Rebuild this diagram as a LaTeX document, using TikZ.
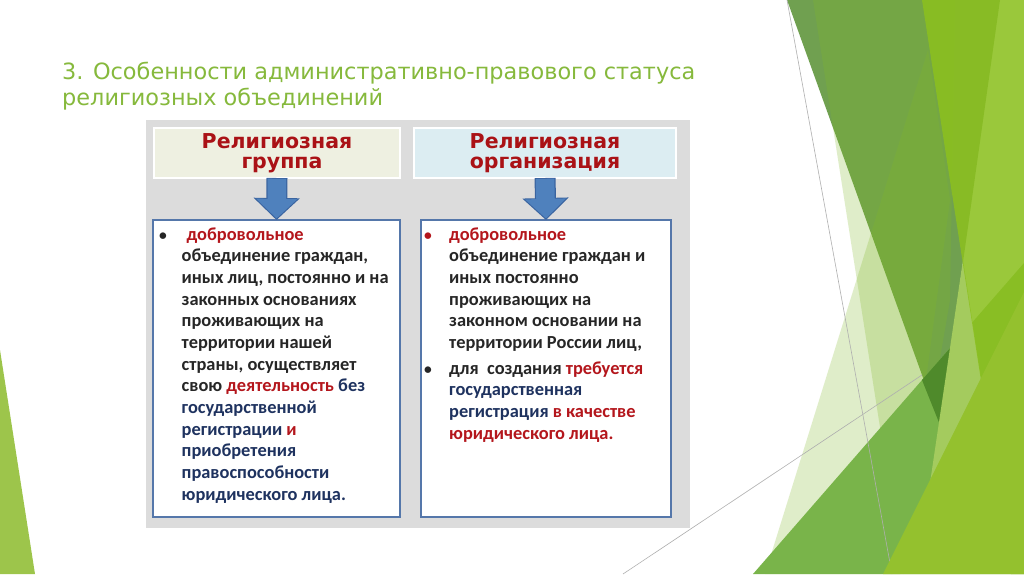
\documentclass[tikz,border=0pt]{standalone}
\usepackage{fontspec}
\setmainfont{Carlito}
\newfontfamily\titlefont{DejaVu Sans}
\newfontfamily\headfont{DejaVu Sans}
\usetikzlibrary{arrows.meta}
\definecolor{titlegreen}{RGB}{134,185,60}
\definecolor{panelgray}{RGB}{220,220,220}
\definecolor{headL}{RGB}{238,240,225}
\definecolor{headR}{RGB}{220,237,242}
\definecolor{boxblue}{RGB}{85,119,170}
\definecolor{tred}{RGB}{180,22,28}
\definecolor{hred}{RGB}{170,18,22}
\definecolor{tnavy}{RGB}{30,50,95}
\definecolor{tblack}{RGB}{38,38,38}
\definecolor{arrblue}{RGB}{79,129,189}
\definecolor{arrdark}{RGB}{58,100,160}
\definecolor{gA}{RGB}{112,160,80}
\definecolor{gE}{RGB}{130,185,40}
\definecolor{gB}{RGB}{140,192,31}
\definecolor{gC}{RGB}{121,180,74}
\definecolor{gDark}{RGB}{79,138,43}
\definecolor{gH}{RGB}{164,203,94}
\definecolor{gD}{RGB}{148,193,46}
\definecolor{gLeft}{RGB}{157,197,75}
\definecolor{thinline}{RGB}{175,175,175}
\tikzset{
  panelbox/.style={fill=panelgray, inner sep=0pt, outer sep=0pt, anchor=north west},
  headbox/.style={draw=white, line width=1.5pt, inner sep=0pt, outer sep=0pt, anchor=north west,
    minimum height=50pt, align=center, text=hred,
    font=\headfont\bfseries\fontsize{20.5}{20}\selectfont},
  bodybox/.style={draw=boxblue, line width=1.1pt, fill=white, inner sep=0pt, outer sep=0pt,
    anchor=north west, minimum height=297pt},
  txt/.style={anchor=base west, inner sep=0pt, text=tblack,
    font=\bfseries\fontsize{18.4}{22}\selectfont},
  bul/.style={anchor=base west, inner sep=0pt, text=tblack,
    font=\bfseries\fontsize{15.5}{22}\selectfont},
  ttl/.style={anchor=base west, inner sep=0pt, text=titlegreen,
    font=\titlefont\fontsize{22.4}{26}\selectfont},
  arrowout/.style={draw=arrdark, line width=21pt, -{Triangle[width=45pt,length=22pt]}},
  arrowin/.style={draw=arrblue, line width=18.5pt, -{Triangle[width=40pt,length=19.5pt]}, shorten >=1.6pt, shorten <=0.8pt},
  thin/.style={draw=thinline, line width=0.6pt}
}
\newcommand{\rd}[1]{\textcolor{tred}{#1}}
\newcommand{\nv}[1]{\textcolor{tnavy}{#1}}
\begin{document}
\begin{tikzpicture}[x=1pt,y=-1pt]
\useasboundingbox (0,0) rectangle (1024,574);
\fill[white] (0,0) rectangle (1024,574);

% decorative shapes
\fill[gLeft] (0,350) -- (35,574) -- (0,574) -- cycle;
\fill[gA] (787,0) -- (1000,0) -- (940,425) -- cycle;
\fill[gE, opacity=0.25] (928,50) -- (765,574) -- (900,574) -- (950,200) -- cycle;
\fill[gE, opacity=0.25] (813,0) -- (955,0) -- (950,300) -- (903,574) -- cycle;
\fill[gC] (753,574) -- (1024,263) -- (1024,574) -- cycle;
\fill[gDark] (922,380) -- (951,347) -- (940,425) -- cycle;
\fill[gH] (963,260) -- (926,510) -- (1011,574) -- cycle;
\fill[gB, opacity=0.87] (922,0) -- (1024,0) -- (1024,574) -- (1011,574) -- cycle;
\draw[thin] (787,0) -- (892,574);
\draw[thin] (623,574) -- (922,375);
\fill[gD] (883,574) -- (1024,292) -- (1024,574) -- cycle;

% title
\node[ttl] (t1) at (62,79.3) {3. Особенности административно-правового статуса};
\node[ttl] (t2) at (62,105) {религиозных объединений};

% panel
\node[panelbox, minimum width=544pt, minimum height=408pt] (panel) at (146,120) {};

% headers
\node[headbox, fill=headL, minimum width=246pt] (hl) at (154,128) {Религиозная\\\hspace*{10pt}группа};
\node[headbox, fill=headR, minimum width=262pt] (hr) at (414,128) {Религиозная\\организация};

% bodies
\node[bodybox, minimum width=247pt] (bl) at (153,220) {};
\node[bodybox, minimum width=250pt] (br) at (421,220) {};

% arrows
\draw[arrowout] (hl.south) -- (bl.north);
\draw[arrowin] (hl.south) -- (bl.north);
\draw[arrowout] (hr.south) -- (br.north);
\draw[arrowin] (hr.south) -- (br.north);

% left text
\node[bul] (lb1) at (159,240) {•};
\node[txt] (l1) at (186.5,240) {\rd{добровольное}};
\node[txt] (l2) at (181.5,261.7) {объединение граждан,};
\node[txt] (l3) at (181.5,283.3) {иных лиц, постоянно и на};
\node[txt] (l4) at (181.5,305) {законных основаниях};
\node[txt] (l5) at (181.5,326.7) {проживающих на};
\node[txt] (l6) at (181.5,348.3) {территории нашей};
\node[txt] (l7) at (181.5,370) {страны, осуществляет};
\node[txt] (l8) at (181.5,391.7) {свою \rd{деятельность} \nv{без}};
\node[txt] (l9) at (181.5,413.3) {\nv{государственной}};
\node[txt] (l10) at (181.5,435) {\nv{регистрации} \rd{и}};
\node[txt] (l11) at (181.5,456.7) {\nv{приобретения}};
\node[txt] (l12) at (181.5,478.3) {\nv{правоспособности}};
\node[txt] (l13) at (181.5,500) {\nv{юридического лица.}};

% right text
\node[bul, text=tred] (rb1) at (424,240) {•};
\node[txt] (r1) at (449,240) {\rd{добровольное}};
\node[txt] (r2) at (449,261.7) {объединение граждан и};
\node[txt] (r3) at (449,283.3) {иных постоянно};
\node[txt] (r4) at (449,305) {проживающих на};
\node[txt] (r5) at (449,326.7) {законном основании на};
\node[txt] (r6) at (449,348.3) {территории России лиц,};
\node[bul] (rb2) at (424,374) {•};
\node[txt] (r7) at (449,374) {для\ \ создания \rd{требуется}};
\node[txt] (r8) at (449,395.7) {\nv{государственная}};
\node[txt] (r9) at (449,417.3) {\nv{регистрация} \rd{в качестве}};
\node[txt] (r10) at (449,439) {\rd{юридического лица.}};
\end{tikzpicture}
\end{document}
